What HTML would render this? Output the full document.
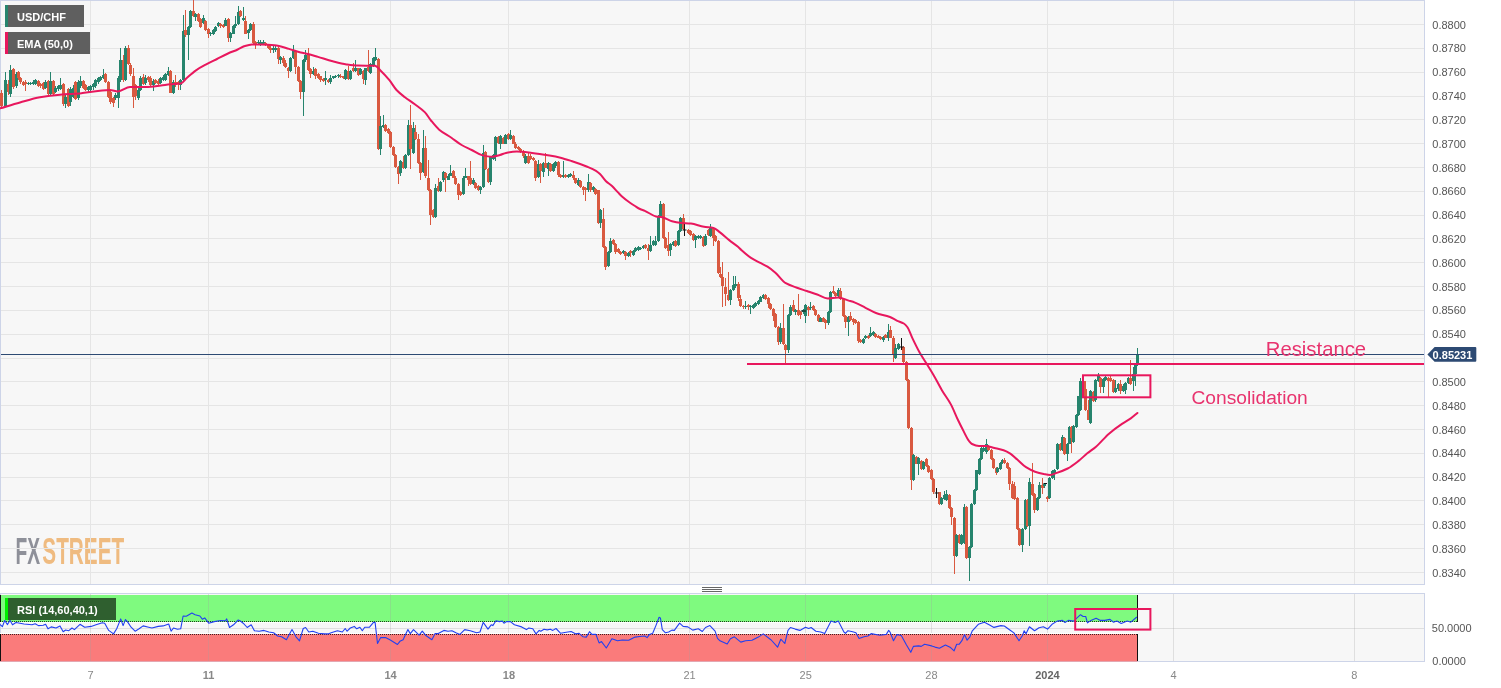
<!DOCTYPE html><html><head><meta charset="utf-8"><title>USD/CHF chart</title><style>html,body{margin:0;padding:0;background:#fff;width:1501px;height:688px;overflow:hidden}svg{display:block;will-change:transform}text{font-family:"Liberation Sans",Arial,sans-serif}</style></head><body>
<svg width="1501" height="688" viewBox="0 0 1501 688">
<rect width="1501" height="688" fill="#fff"/>
<rect x="0.5" y="0.5" width="1424" height="584" fill="#f7f7f7" stroke="#cdd4e8"/>
<g transform="translate(15.4 564.2) scale(0.585 1)" font-weight="bold" font-size="37.8"><text x="0" y="0" fill="#8e9099" textLength="42" lengthAdjust="spacingAndGlyphs">FX</text><text x="46" y="0" fill="#efbb80" textLength="140" lengthAdjust="spacingAndGlyphs">STREET</text></g>
<path d="M1 24.5H1424M1 48.5H1424M1 72.5H1424M1 96.5H1424M1 119.5H1424M1 143.5H1424M1 167.5H1424M1 191.5H1424M1 215.5H1424M1 238.5H1424M1 262.5H1424M1 286.5H1424M1 310.5H1424M1 334.5H1424M1 358.5H1424M1 381.5H1424M1 405.5H1424M1 429.5H1424M1 453.5H1424M1 477.5H1424M1 500.5H1424M1 524.5H1424M1 548.5H1424M1 572.5H1424M90.5 1V584M208.5 1V584M390.5 1V584M508.5 1V584M689.5 1V584M805.5 1V584M931.5 1V584M1047.5 1V584M1173.5 1V584M1354.5 1V584" stroke="#e5e5e5" stroke-width="1" fill="none"/>
<path d="M1 90h1v18h-1zM0 93h3v13h-3z" fill="#d95940"/>
<path d="M5 72h1v35h-1zM4 80h3v26h-3z" fill="#26846d"/>
<path d="M8 80h1v15h-1zM7 84h3v8h-3z" fill="#d95940"/>
<path d="M10 65h1v32h-1zM9 70h3v24h-3z" fill="#26846d"/>
<path d="M13 68h1v21h-1zM12 69h3v18h-3z" fill="#d95940"/>
<path d="M16 72h1v16h-1zM15 74h3v12h-3z" fill="#26846d"/>
<path d="M18 71h1v9h-1zM17 72h3v6h-3zM20 77h1v7h-1zM19 78h3v4h-3zM23 81h1v5h-1zM22 82h3v3h-3zM25 80h1v11h-1zM24 82h3v2h-3z" fill="#d95940"/>
<path d="M28 82h1v3h-1zM27 83h3v1h-3zM30 82h1v3h-1zM29 83h3v1h-3zM33 80h1v5h-1zM32 82h3v2h-3zM35 79h1v6h-1zM34 80h3v4h-3z" fill="#26846d"/>
<path d="M38 80h1v7h-1zM37 81h3v5h-3zM40 83h1v5h-1zM39 84h3v2h-3zM43 82h1v8h-1zM42 83h3v6h-3z" fill="#d95940"/>
<path d="M45 80h1v9h-1zM44 82h3v6h-3z" fill="#26846d"/>
<path d="M48 80h1v16h-1zM47 81h3v13h-3z" fill="#d95940"/>
<path d="M50 72h1v23h-1zM49 81h3v13h-3z" fill="#26846d"/>
<path d="M53 80h1v16h-1zM52 81h3v13h-3z" fill="#d95940"/>
<path d="M55 86h1v7h-1zM54 88h3v4h-3zM58 85h1v6h-1zM57 86h3v3h-3zM60 78h1v12h-1zM59 85h3v4h-3z" fill="#26846d"/>
<path d="M63 83h1v23h-1zM62 84h3v20h-3z" fill="#d95940"/>
<path d="M65 95h1v13h-1zM64 97h3v7h-3z" fill="#26846d"/>
<path d="M68 88h1v19h-1zM67 89h3v17h-3z" fill="#d95940"/>
<path d="M70 87h1v19h-1zM69 89h3v13h-3zM73 85h1v13h-1zM72 88h3v9h-3z" fill="#26846d"/>
<path d="M75 81h1v19h-1zM74 82h3v17h-3z" fill="#d95940"/>
<path d="M78 80h1v20h-1zM77 82h3v16h-3zM80 76h1v12h-1zM79 81h3v5h-3z" fill="#26846d"/>
<path d="M83 80h1v9h-1zM82 81h3v7h-3zM85 84h1v7h-1zM84 85h3v5h-3z" fill="#d95940"/>
<path d="M88 86h1v6h-1zM87 87h3v3h-3zM90 85h1v6h-1zM89 86h3v4h-3zM93 83h1v7h-1zM92 84h3v3h-3zM95 79h1v9h-1zM94 80h3v6h-3zM98 77h1v7h-1zM97 78h3v4h-3zM100 76h1v5h-1zM99 77h3v3h-3zM103 69h1v10h-1zM102 75h3v3h-3z" fill="#26846d"/>
<path d="M105 73h1v10h-1zM104 74h3v8h-3zM108 81h1v17h-1zM107 82h3v15h-3zM110 90h1v14h-1zM109 92h3v10h-3zM113 97h1v10h-1zM112 98h3v5h-3z" fill="#d95940"/>
<path d="M115 93h1v7h-1zM114 95h3v3h-3zM118 76h1v32h-1zM117 78h3v20h-3zM120 48h1v34h-1zM119 60h3v20h-3z" fill="#26846d"/>
<path d="M123 55h1v27h-1zM122 60h3v20h-3z" fill="#d95940"/>
<path d="M125 46h1v35h-1zM124 48h3v32h-3z" fill="#26846d"/>
<path d="M128 45h1v20h-1zM127 48h3v16h-3zM130 63h1v13h-1zM129 65h3v9h-3zM133 68h1v40h-1zM132 76h3v21h-3zM135 84h1v16h-1zM134 85h3v11h-3z" fill="#d95940"/>
<path d="M138 88h1v12h-1zM137 90h3v8h-3zM140 76h1v15h-1zM139 78h3v12h-3z" fill="#26846d"/>
<path d="M143 74h1v11h-1zM142 77h3v7h-3z" fill="#d95940"/>
<path d="M145 75h1v10h-1zM144 78h3v5h-3z" fill="#26846d"/>
<path d="M148 76h1v6h-1zM147 77h3v3h-3zM150 76h1v10h-1zM149 78h3v7h-3z" fill="#d95940"/>
<path d="M153 79h1v12h-1zM152 81h3v4h-3z" fill="#26846d"/>
<path d="M155 79h1v5h-1zM154 80h3v3h-3zM158 79h1v6h-1zM157 81h3v3h-3z" fill="#d95940"/>
<path d="M160 77h1v7h-1zM159 78h3v5h-3zM163 75h1v6h-1zM162 77h3v3h-3zM165 73h1v8h-1zM164 74h3v6h-3zM168 67h1v9h-1zM167 71h3v4h-3z" fill="#26846d"/>
<path d="M170 70h1v23h-1zM169 71h3v22h-3z" fill="#d95940"/>
<path d="M173 80h1v14h-1zM172 82h3v11h-3z" fill="#26846d"/>
<path d="M175 75h1v12h-1zM174 82h3v3h-3zM178 81h1v9h-1zM177 82h3v2h-3z" fill="#d95940"/>
<path d="M180 79h1v11h-1zM179 80h3v5h-3zM183 15h1v66h-1zM182 31h3v49h-3z" fill="#26846d"/>
<path d="M185 10h1v27h-1zM184 30h3v5h-3z" fill="#d95940"/>
<path d="M188 26h1v34h-1zM187 27h3v8h-3zM190 10h1v18h-1zM189 11h3v16h-3z" fill="#26846d"/>
<path d="M193 0h1v17h-1zM192 11h3v5h-3z" fill="#d95940"/>
<path d="M195 13h1v8h-1zM194 14h3v3h-3z" fill="#26846d"/>
<path d="M198 13h1v9h-1zM197 14h3v7h-3zM200 18h1v10h-1zM199 19h3v8h-3z" fill="#d95940"/>
<path d="M203 15h1v9h-1zM202 18h3v5h-3z" fill="#26846d"/>
<path d="M205 20h1v11h-1zM204 21h3v9h-3zM208 28h1v10h-1zM207 29h3v5h-3z" fill="#d95940"/>
<path d="M210 32h1v4h-1zM209 33h3v1h-3zM213 29h1v6h-1zM212 30h3v4h-3zM215 26h1v6h-1zM214 27h3v4h-3zM218 22h1v5h-1zM217 23h3v3h-3z" fill="#26846d"/>
<path d="M220 23h1v5h-1zM219 24h3v2h-3zM223 24h1v4h-1zM222 25h3v2h-3z" fill="#d95940"/>
<path d="M225 18h1v8h-1zM224 20h3v6h-3z" fill="#26846d"/>
<path d="M228 18h1v24h-1zM227 19h3v19h-3z" fill="#d95940"/>
<path d="M230 32h1v10h-1zM229 33h3v5h-3zM233 25h1v9h-1zM232 26h3v8h-3zM235 16h1v12h-1zM234 24h3v2h-3zM238 6h1v19h-1zM237 12h3v12h-3z" fill="#26846d"/>
<path d="M240 10h1v7h-1zM239 11h3v5h-3z" fill="#d95940"/>
<path d="M243 7h1v14h-1zM242 18h3v2h-3z" fill="#26846d"/>
<path d="M245 16h1v18h-1zM244 21h3v13h-3z" fill="#d95940"/>
<path d="M248 29h1v10h-1zM247 30h3v3h-3zM250 23h1v8h-1zM249 24h3v6h-3z" fill="#26846d"/>
<path d="M253 22h1v22h-1zM252 24h3v19h-3zM255 41h1v8h-1zM254 42h3v2h-3z" fill="#d95940"/>
<path d="M258 40h1v4h-1zM257 42h3v1h-3zM260 40h1v6h-1zM259 42h3v2h-3zM263 40h1v5h-1zM262 42h3v2h-3z" fill="#26846d"/>
<path d="M265 42h1v4h-1zM264 43h3v1h-3zM268 44h1v5h-1zM267 45h3v3h-3zM270 46h1v7h-1zM269 48h3v2h-3z" fill="#d95940"/>
<path d="M273 46h1v7h-1zM272 48h3v2h-3zM275 46h1v6h-1zM274 48h3v2h-3z" fill="#26846d"/>
<path d="M278 47h1v17h-1zM277 48h3v11h-3z" fill="#d95940"/>
<path d="M280 56h1v8h-1zM279 57h3v3h-3z" fill="#26846d"/>
<path d="M283 56h1v10h-1zM282 58h3v5h-3zM285 60h1v8h-1zM284 63h3v4h-3zM288 67h1v11h-1zM287 68h3v3h-3z" fill="#d95940"/>
<path d="M290 57h1v15h-1zM289 58h3v13h-3zM293 45h1v14h-1zM292 51h3v7h-3z" fill="#26846d"/>
<path d="M295 51h1v23h-1zM294 52h3v15h-3zM298 66h1v16h-1zM297 67h3v14h-3zM300 80h1v19h-1zM299 81h3v11h-3z" fill="#d95940"/>
<path d="M303 59h1v57h-1zM302 60h3v32h-3zM305 50h1v12h-1zM304 55h3v5h-3z" fill="#26846d"/>
<path d="M308 48h1v23h-1zM307 54h3v16h-3zM310 68h1v10h-1zM309 69h3v5h-3z" fill="#d95940"/>
<path d="M313 67h1v8h-1zM312 71h3v3h-3z" fill="#26846d"/>
<path d="M315 68h1v11h-1zM314 69h3v7h-3zM318 73h1v6h-1zM317 74h3v4h-3zM320 76h1v6h-1zM319 76h3v4h-3zM323 78h1v4h-1zM322 79h3v2h-3z" fill="#d95940"/>
<path d="M325 71h1v14h-1zM324 78h3v2h-3z" fill="#26846d"/>
<path d="M328 79h1v4h-1zM327 80h3v2h-3z" fill="#d95940"/>
<path d="M330 75h1v9h-1zM329 78h3v4h-3zM333 76h1v3h-1zM332 76h3v2h-3zM335 75h1v3h-1zM334 76h3v1h-3zM338 74h1v4h-1zM337 75h3v1h-3z" fill="#26846d"/>
<path d="M340 74h1v4h-1zM339 76h3v1h-3zM343 76h1v3h-1zM342 76h3v2h-3z" fill="#d95940"/>
<path d="M345 69h1v11h-1zM344 70h3v9h-3z" fill="#26846d"/>
<path d="M348 66h1v14h-1zM347 71h3v8h-3z" fill="#d95940"/>
<path d="M350 70h1v10h-1zM349 71h3v8h-3z" fill="#26846d"/>
<path d="M353 63h1v9h-1zM352 68h3v3h-3z" fill="#d95940"/>
<path d="M355 60h1v12h-1zM354 68h3v3h-3z" fill="#26846d"/>
<path d="M358 68h1v8h-1zM357 68h3v7h-3z" fill="#d95940"/>
<path d="M360 68h1v7h-1zM359 69h3v5h-3z" fill="#26846d"/>
<path d="M363 70h1v14h-1zM362 71h3v8h-3z" fill="#d95940"/>
<path d="M365 68h1v17h-1zM364 68h3v12h-3z" fill="#26846d"/>
<path d="M368 50h1v22h-1zM367 67h3v4h-3z" fill="#d95940"/>
<path d="M370 63h1v11h-1zM369 64h3v9h-3zM373 57h1v10h-1zM372 58h3v8h-3zM375 48h1v13h-1zM374 57h3v3h-3z" fill="#26846d"/>
<path d="M378 58h1v92h-1zM377 59h3v90h-3z" fill="#d95940"/>
<path d="M380 116h1v39h-1zM379 126h3v23h-3zM383 115h1v13h-1zM382 125h3v2h-3z" fill="#26846d"/>
<path d="M385 124h1v8h-1zM384 125h3v6h-3zM388 128h1v6h-1zM387 129h3v4h-3zM390 131h1v17h-1zM389 132h3v15h-3zM393 146h1v10h-1zM392 147h3v8h-3zM395 154h1v14h-1zM394 155h3v12h-3zM398 166h1v18h-1zM397 167h3v7h-3z" fill="#d95940"/>
<path d="M400 160h1v16h-1zM399 161h3v12h-3z" fill="#26846d"/>
<path d="M403 156h1v13h-1zM402 162h3v6h-3z" fill="#d95940"/>
<path d="M405 154h1v15h-1zM404 155h3v13h-3zM408 120h1v36h-1zM407 125h3v30h-3z" fill="#26846d"/>
<path d="M410 105h1v64h-1zM409 125h3v24h-3z" fill="#d95940"/>
<path d="M413 122h1v32h-1zM412 128h3v25h-3z" fill="#26846d"/>
<path d="M415 125h1v15h-1zM414 132h3v7h-3zM418 134h1v30h-1zM417 139h3v24h-3zM420 162h1v18h-1zM419 163h3v10h-3z" fill="#d95940"/>
<path d="M423 130h1v43h-1zM422 148h3v24h-3z" fill="#26846d"/>
<path d="M425 136h1v42h-1zM424 148h3v28h-3zM428 160h1v31h-1zM427 178h3v12h-3zM430 189h1v36h-1zM429 190h3v25h-3zM433 209h1v9h-1zM432 210h3v7h-3z" fill="#d95940"/>
<path d="M435 184h1v34h-1zM434 188h3v29h-3z" fill="#26846d"/>
<path d="M438 178h1v14h-1zM437 186h3v5h-3z" fill="#d95940"/>
<path d="M440 181h1v11h-1zM439 182h3v9h-3zM443 171h1v11h-1zM442 172h3v8h-3z" fill="#26846d"/>
<path d="M445 172h1v20h-1zM444 173h3v5h-3z" fill="#d95940"/>
<path d="M448 174h1v6h-1zM447 176h3v4h-3zM450 165h1v11h-1zM449 173h3v3h-3z" fill="#26846d"/>
<path d="M453 170h1v8h-1zM452 171h3v7h-3zM455 176h1v9h-1zM454 178h3v6h-3zM458 183h1v17h-1zM457 184h3v11h-3zM460 191h1v5h-1zM459 192h3v3h-3z" fill="#d95940"/>
<path d="M463 176h1v19h-1zM462 178h3v16h-3zM465 168h1v10h-1zM464 176h3v2h-3z" fill="#26846d"/>
<path d="M468 176h1v10h-1zM467 176h3v4h-3zM470 161h1v24h-1zM469 178h3v6h-3z" fill="#d95940"/>
<path d="M473 178h1v7h-1zM472 180h3v4h-3z" fill="#26846d"/>
<path d="M475 182h1v7h-1zM474 183h3v5h-3zM478 185h1v6h-1zM477 186h3v4h-3z" fill="#d95940"/>
<path d="M480 186h1v8h-1zM479 187h3v3h-3zM483 145h1v43h-1zM482 153h3v34h-3z" fill="#26846d"/>
<path d="M485 151h1v19h-1zM484 152h3v17h-3zM488 168h1v15h-1zM487 169h3v13h-3z" fill="#d95940"/>
<path d="M490 156h1v29h-1zM489 157h3v25h-3zM493 154h1v6h-1zM492 155h3v4h-3zM495 136h1v25h-1zM494 137h3v20h-3z" fill="#26846d"/>
<path d="M498 136h1v8h-1zM497 137h3v6h-3z" fill="#d95940"/>
<path d="M500 135h1v14h-1zM499 136h3v8h-3z" fill="#26846d"/>
<path d="M503 137h1v7h-1zM502 138h3v6h-3z" fill="#d95940"/>
<path d="M505 134h1v10h-1zM504 135h3v9h-3z" fill="#26846d"/>
<path d="M508 133h1v7h-1zM507 134h3v5h-3z" fill="#d95940"/>
<path d="M510 130h1v10h-1zM509 135h3v4h-3z" fill="#26846d"/>
<path d="M513 135h1v9h-1zM512 136h3v8h-3zM515 142h1v7h-1zM514 144h3v4h-3zM518 146h1v4h-1zM517 147h3v2h-3zM520 148h1v5h-1zM519 149h3v3h-3zM523 150h1v8h-1zM522 151h3v5h-3z" fill="#d95940"/>
<path d="M525 154h1v10h-1zM524 156h3v7h-3z" fill="#26846d"/>
<path d="M528 152h1v12h-1zM527 156h3v7h-3zM530 154h1v6h-1zM529 156h3v3h-3zM533 157h1v4h-1zM532 158h3v2h-3zM535 160h1v21h-1zM534 161h3v17h-3z" fill="#d95940"/>
<path d="M538 160h1v18h-1zM537 164h3v13h-3z" fill="#26846d"/>
<path d="M540 163h1v20h-1zM539 164h3v7h-3z" fill="#d95940"/>
<path d="M543 162h1v15h-1zM542 163h3v9h-3z" fill="#26846d"/>
<path d="M545 153h1v15h-1zM544 163h3v5h-3z" fill="#d95940"/>
<path d="M548 162h1v14h-1zM547 163h3v6h-3z" fill="#26846d"/>
<path d="M550 163h1v9h-1zM549 164h3v7h-3z" fill="#d95940"/>
<path d="M553 163h1v9h-1zM552 164h3v7h-3zM555 161h1v7h-1zM554 162h3v4h-3z" fill="#26846d"/>
<path d="M558 161h1v16h-1zM557 162h3v13h-3zM560 174h1v4h-1zM559 175h3v2h-3z" fill="#d95940"/>
<path d="M563 161h1v17h-1zM562 175h3v2h-3z" fill="#26846d"/>
<path d="M565 174h1v4h-1zM564 175h3v2h-3z" fill="#d95940"/>
<path d="M568 174h1v4h-1zM567 175h3v2h-3zM570 173h1v4h-1zM569 174h3v2h-3z" fill="#26846d"/>
<path d="M573 171h1v9h-1zM572 175h3v3h-3zM575 178h1v6h-1zM574 178h3v5h-3z" fill="#d95940"/>
<path d="M578 178h1v8h-1zM577 180h3v5h-3z" fill="#26846d"/>
<path d="M580 180h1v8h-1zM579 181h3v6h-3zM583 186h1v9h-1zM582 187h3v3h-3zM585 187h1v14h-1zM584 188h3v2h-3z" fill="#d95940"/>
<path d="M588 174h1v18h-1zM587 182h3v8h-3z" fill="#26846d"/>
<path d="M590 182h1v10h-1zM589 183h3v7h-3z" fill="#d95940"/>
<path d="M593 186h1v6h-1zM592 187h3v3h-3z" fill="#26846d"/>
<path d="M595 188h1v7h-1zM594 189h3v5h-3zM598 190h1v34h-1zM597 190h3v33h-3z" fill="#d95940"/>
<path d="M600 209h1v19h-1zM599 210h3v13h-3z" fill="#26846d"/>
<path d="M603 208h1v40h-1zM602 219h3v28h-3zM605 246h1v24h-1zM604 247h3v20h-3z" fill="#d95940"/>
<path d="M608 251h1v16h-1zM607 252h3v14h-3zM610 238h1v15h-1zM609 241h3v11h-3z" fill="#26846d"/>
<path d="M613 239h1v6h-1zM612 240h3v4h-3zM615 243h1v11h-1zM614 244h3v8h-3zM618 248h1v5h-1zM617 249h3v3h-3zM620 251h1v4h-1zM619 252h3v2h-3z" fill="#d95940"/>
<path d="M623 250h1v4h-1zM622 251h3v2h-3z" fill="#26846d"/>
<path d="M625 251h1v9h-1zM624 252h3v4h-3z" fill="#d95940"/>
<path d="M628 252h1v5h-1zM627 253h3v3h-3z" fill="#26846d"/>
<path d="M630 250h1v7h-1zM629 251h3v2h-3z" fill="#d95940"/>
<path d="M633 250h1v6h-1zM632 251h3v4h-3zM635 247h1v5h-1zM634 248h3v3h-3zM638 246h1v5h-1zM637 247h3v3h-3zM640 247h1v3h-1zM639 248h3v1h-3zM643 245h1v4h-1zM642 246h3v2h-3z" fill="#26846d"/>
<path d="M645 244h1v5h-1zM644 245h3v3h-3zM648 244h1v16h-1zM647 248h3v3h-3z" fill="#d95940"/>
<path d="M650 236h1v16h-1zM649 245h3v6h-3zM653 240h1v6h-1zM652 241h3v4h-3zM655 236h1v10h-1zM654 241h3v4h-3zM658 215h1v27h-1zM657 216h3v25h-3zM660 201h1v16h-1zM659 204h3v12h-3z" fill="#26846d"/>
<path d="M663 203h1v36h-1zM662 204h3v34h-3zM665 237h1v12h-1zM664 238h3v10h-3zM668 232h1v24h-1zM667 245h3v6h-3z" fill="#d95940"/>
<path d="M670 243h1v13h-1zM669 244h3v6h-3zM673 241h1v5h-1zM672 242h3v3h-3z" fill="#26846d"/>
<path d="M675 240h1v7h-1zM674 241h3v5h-3z" fill="#d95940"/>
<path d="M678 230h1v16h-1zM677 231h3v14h-3zM680 217h1v15h-1zM679 218h3v13h-3z" fill="#26846d"/>
<path d="M683 214h1v16h-1zM682 218h3v11h-3zM688 229h1v5h-1zM687 230h3v3h-3zM690 230h1v6h-1zM689 231h3v4h-3zM693 233h1v8h-1zM692 234h3v6h-3z" fill="#d95940"/>
<path d="M695 235h1v13h-1zM694 236h3v4h-3zM698 235h1v4h-1zM697 236h3v2h-3zM700 235h1v4h-1zM699 236h3v2h-3z" fill="#26846d"/>
<path d="M703 236h1v11h-1zM702 237h3v9h-3z" fill="#d95940"/>
<path d="M705 234h1v12h-1zM704 236h3v9h-3z" fill="#26846d"/>
<path d="M708 229h1v7h-1zM707 230h3v5h-3z" fill="#d95940"/>
<path d="M710 224h1v13h-1zM709 228h3v8h-3z" fill="#26846d"/>
<path d="M713 227h1v19h-1zM712 228h3v10h-3zM715 235h1v7h-1zM714 236h3v5h-3zM718 240h1v34h-1zM717 241h3v32h-3zM720 267h1v11h-1zM719 274h3v3h-3zM722 262h1v45h-1zM721 277h3v9h-3zM725 278h1v28h-1zM724 287h3v7h-3zM728 272h1v29h-1zM727 295h3v5h-3z" fill="#d95940"/>
<path d="M730 289h1v16h-1zM729 290h3v10h-3zM733 276h1v15h-1zM732 285h3v5h-3zM735 276h1v12h-1zM734 284h3v2h-3z" fill="#26846d"/>
<path d="M738 282h1v19h-1zM737 284h3v14h-3zM740 295h1v12h-1zM739 299h3v7h-3zM743 305h1v4h-1zM742 306h3v1h-3z" fill="#d95940"/>
<path d="M745 301h1v8h-1zM744 306h3v1h-3z" fill="#26846d"/>
<path d="M748 304h1v6h-1zM747 305h3v2h-3z" fill="#d95940"/>
<path d="M750 305h1v9h-1zM749 306h3v1h-3zM753 304h1v5h-1zM752 305h3v3h-3zM755 302h1v5h-1zM754 303h3v3h-3zM758 300h1v5h-1zM757 301h3v3h-3zM760 296h1v6h-1zM759 297h3v5h-3zM763 294h1v5h-1zM762 295h3v3h-3z" fill="#26846d"/>
<path d="M765 294h1v6h-1zM764 295h3v4h-3zM768 297h1v11h-1zM767 298h3v6h-3zM770 303h1v7h-1zM769 304h3v5h-3zM773 308h1v13h-1zM772 309h3v7h-3zM775 313h1v15h-1zM774 314h3v13h-3zM778 326h1v19h-1zM777 327h3v15h-3z" fill="#d95940"/>
<path d="M780 323h1v21h-1zM779 328h3v14h-3z" fill="#26846d"/>
<path d="M783 304h1v41h-1zM782 328h3v16h-3zM785 344h1v21h-1zM784 345h3v5h-3z" fill="#d95940"/>
<path d="M788 314h1v39h-1zM787 315h3v35h-3zM790 305h1v11h-1zM789 307h3v8h-3z" fill="#26846d"/>
<path d="M793 300h1v12h-1zM792 305h3v6h-3z" fill="#d95940"/>
<path d="M795 309h1v6h-1zM794 310h3v2h-3z" fill="#26846d"/>
<path d="M798 294h1v22h-1zM797 310h3v5h-3zM800 311h1v8h-1zM799 312h3v3h-3z" fill="#d95940"/>
<path d="M803 309h1v5h-1zM802 310h3v2h-3zM805 304h1v19h-1zM804 305h3v11h-3z" fill="#26846d"/>
<path d="M808 306h1v10h-1zM807 307h3v3h-3z" fill="#d95940"/>
<path d="M810 302h1v8h-1zM809 307h3v1h-3z" fill="#26846d"/>
<path d="M813 305h1v6h-1zM812 306h3v4h-3zM815 309h1v7h-1zM814 310h3v5h-3zM818 314h1v8h-1zM817 315h3v6h-3z" fill="#d95940"/>
<path d="M820 317h1v5h-1zM819 318h3v4h-3z" fill="#26846d"/>
<path d="M823 317h1v5h-1zM822 318h3v4h-3zM825 319h1v10h-1zM824 320h3v3h-3z" fill="#d95940"/>
<path d="M828 311h1v14h-1zM827 312h3v11h-3zM830 291h1v22h-1zM829 292h3v20h-3z" fill="#26846d"/>
<path d="M833 286h1v8h-1zM832 291h3v2h-3zM835 292h1v5h-1zM834 293h3v3h-3z" fill="#d95940"/>
<path d="M838 288h1v9h-1zM837 290h3v6h-3z" fill="#26846d"/>
<path d="M840 288h1v12h-1zM839 291h3v8h-3zM843 298h1v19h-1zM842 299h3v17h-3zM845 315h1v13h-1zM844 316h3v6h-3z" fill="#d95940"/>
<path d="M848 316h1v20h-1zM847 317h3v5h-3z" fill="#26846d"/>
<path d="M850 312h1v9h-1zM849 316h3v4h-3zM853 318h1v7h-1zM852 319h3v3h-3zM855 319h1v5h-1zM854 320h3v3h-3zM858 321h1v22h-1zM857 322h3v19h-3zM860 339h1v4h-1zM859 340h3v2h-3z" fill="#d95940"/>
<path d="M863 338h1v6h-1zM862 339h3v4h-3zM865 335h1v4h-1zM864 336h3v2h-3z" fill="#26846d"/>
<path d="M868 335h1v4h-1zM867 336h3v2h-3z" fill="#d95940"/>
<path d="M870 327h1v10h-1zM869 333h3v3h-3zM873 331h1v5h-1zM872 332h3v3h-3z" fill="#26846d"/>
<path d="M875 333h1v5h-1zM874 334h3v3h-3zM878 335h1v3h-1zM877 336h3v2h-3zM880 336h1v4h-1zM879 337h3v2h-3z" fill="#d95940"/>
<path d="M883 336h1v6h-1zM882 337h3v3h-3z" fill="#26846d"/>
<path d="M885 334h1v4h-1zM884 335h3v3h-3z" fill="#d95940"/>
<path d="M888 324h1v17h-1zM887 332h3v6h-3z" fill="#26846d"/>
<path d="M890 326h1v12h-1zM889 330h3v8h-3zM893 336h1v26h-1zM892 338h3v16h-3z" fill="#d95940"/>
<path d="M895 344h1v15h-1zM894 348h3v10h-3zM898 343h1v7h-1zM897 344h3v5h-3z" fill="#26846d"/>
<path d="M903 346h1v17h-1zM902 347h3v15h-3zM906 361h1v20h-1zM905 362h3v18h-3zM908 379h1v50h-1zM907 380h3v48h-3zM911 427h1v63h-1zM910 428h3v52h-3z" fill="#d95940"/>
<path d="M913 454h1v27h-1zM912 455h3v25h-3z" fill="#26846d"/>
<path d="M916 456h1v8h-1zM915 457h3v7h-3z" fill="#d95940"/>
<path d="M918 457h1v18h-1zM917 458h3v6h-3z" fill="#26846d"/>
<path d="M921 460h1v10h-1zM920 461h3v8h-3z" fill="#d95940"/>
<path d="M923 461h1v9h-1zM922 462h3v7h-3z" fill="#26846d"/>
<path d="M926 458h1v9h-1zM925 459h3v7h-3zM928 465h1v8h-1zM927 466h3v6h-3zM931 469h1v11h-1zM930 470h3v9h-3zM933 478h1v16h-1zM932 479h3v13h-3zM939 492h1v13h-1zM938 492h3v12h-3z" fill="#d95940"/>
<path d="M941 497h1v8h-1zM940 498h3v6h-3zM944 491h1v9h-1zM943 495h3v4h-3zM946 490h1v11h-1zM945 494h3v6h-3z" fill="#26846d"/>
<path d="M949 494h1v15h-1zM948 495h3v13h-3zM951 507h1v18h-1zM950 508h3v9h-3zM954 517h1v57h-1zM953 518h3v38h-3z" fill="#d95940"/>
<path d="M956 534h1v23h-1zM955 535h3v21h-3z" fill="#26846d"/>
<path d="M959 534h1v10h-1zM958 535h3v8h-3z" fill="#d95940"/>
<path d="M961 534h1v11h-1zM960 535h3v9h-3zM964 504h1v40h-1zM963 507h3v36h-3z" fill="#26846d"/>
<path d="M966 506h1v53h-1zM965 507h3v51h-3z" fill="#d95940"/>
<path d="M969 546h1v35h-1zM968 547h3v11h-3zM971 503h1v45h-1zM970 504h3v43h-3zM974 489h1v16h-1zM973 490h3v14h-3zM976 470h1v21h-1zM975 470h3v20h-3zM979 458h1v17h-1zM978 459h3v15h-3zM981 447h1v13h-1zM980 448h3v11h-3zM983 445h1v7h-1zM982 448h3v3h-3zM986 439h1v15h-1zM985 444h3v8h-3z" fill="#26846d"/>
<path d="M988 445h1v6h-1zM987 446h3v4h-3zM991 449h1v11h-1zM990 450h3v9h-3zM993 458h1v11h-1zM992 459h3v9h-3zM996 467h1v8h-1zM995 468h3v5h-3z" fill="#d95940"/>
<path d="M997 467h1v6h-1zM996 468h3v4h-3zM1000 462h1v8h-1zM999 463h3v6h-3zM1002 459h1v5h-1zM1001 460h3v3h-3z" fill="#26846d"/>
<path d="M1004 458h1v6h-1zM1003 460h3v3h-3zM1007 462h1v7h-1zM1006 463h3v5h-3zM1009 467h1v23h-1zM1008 468h3v16h-3zM1012 481h1v18h-1zM1011 484h3v14h-3zM1014 482h1v18h-1zM1013 486h3v13h-3zM1017 497h1v33h-1zM1016 498h3v31h-3zM1019 528h1v18h-1zM1018 529h3v16h-3z" fill="#d95940"/>
<path d="M1022 528h1v24h-1zM1021 529h3v16h-3zM1025 499h1v31h-1zM1024 500h3v29h-3z" fill="#26846d"/>
<path d="M1027 499h1v28h-1zM1026 500h3v26h-3z" fill="#d95940"/>
<path d="M1029 478h1v68h-1zM1028 482h3v44h-3z" fill="#26846d"/>
<path d="M1032 463h1v33h-1zM1031 484h3v11h-3zM1034 493h1v20h-1zM1033 494h3v16h-3z" fill="#d95940"/>
<path d="M1037 497h1v14h-1zM1036 498h3v12h-3zM1039 482h1v17h-1zM1038 485h3v13h-3z" fill="#26846d"/>
<path d="M1042 478h1v16h-1zM1041 485h3v3h-3z" fill="#d95940"/>
<path d="M1044 484h1v4h-1zM1043 484h3v2h-3z" fill="#26846d"/>
<path d="M1047 496h1v6h-1zM1046 497h3v2h-3z" fill="#d95940"/>
<path d="M1049 477h1v22h-1zM1048 478h3v20h-3zM1052 470h1v9h-1zM1051 471h3v7h-3zM1054 469h1v11h-1zM1053 470h3v3h-3zM1057 443h1v27h-1zM1056 444h3v25h-3z" fill="#26846d"/>
<path d="M1060 443h1v8h-1zM1059 444h3v6h-3z" fill="#d95940"/>
<path d="M1062 435h1v16h-1zM1061 437h3v13h-3z" fill="#26846d"/>
<path d="M1064 437h1v18h-1zM1063 438h3v16h-3z" fill="#d95940"/>
<path d="M1067 443h1v18h-1zM1066 444h3v10h-3zM1069 426h1v18h-1zM1068 427h3v17h-3z" fill="#26846d"/>
<path d="M1071 426h1v27h-1zM1070 427h3v11h-3z" fill="#d95940"/>
<path d="M1073 425h1v18h-1zM1072 426h3v16h-3zM1076 414h1v14h-1zM1075 415h3v12h-3zM1078 396h1v20h-1zM1077 396h3v19h-3zM1080 378h1v33h-1zM1079 381h3v29h-3z" fill="#26846d"/>
<path d="M1083 380h1v10h-1zM1082 381h3v8h-3zM1085 381h1v30h-1zM1084 389h3v21h-3zM1088 400h1v20h-1zM1087 410h3v10h-3z" fill="#d95940"/>
<path d="M1090 390h1v34h-1zM1089 391h3v32h-3z" fill="#26846d"/>
<path d="M1093 391h1v11h-1zM1092 392h3v9h-3z" fill="#d95940"/>
<path d="M1095 379h1v23h-1zM1094 380h3v20h-3zM1098 373h1v9h-1zM1097 375h3v6h-3z" fill="#26846d"/>
<path d="M1100 377h1v16h-1zM1099 378h3v9h-3z" fill="#d95940"/>
<path d="M1103 378h1v15h-1zM1102 379h3v8h-3zM1105 376h1v5h-1zM1104 377h3v3h-3z" fill="#26846d"/>
<path d="M1108 377h1v20h-1zM1107 378h3v3h-3zM1110 376h1v6h-1zM1109 378h3v3h-3zM1113 379h1v14h-1zM1112 380h3v12h-3z" fill="#d95940"/>
<path d="M1115 380h1v13h-1zM1114 388h3v4h-3zM1118 383h1v8h-1zM1117 384h3v5h-3z" fill="#26846d"/>
<path d="M1120 380h1v14h-1zM1119 384h3v7h-3z" fill="#d95940"/>
<path d="M1123 384h1v8h-1zM1122 386h3v5h-3zM1125 382h1v12h-1zM1124 383h3v7h-3zM1128 377h1v7h-1zM1127 378h3v5h-3z" fill="#26846d"/>
<path d="M1130 360h1v25h-1zM1129 378h3v6h-3z" fill="#d95940"/>
<path d="M1133 367h1v24h-1zM1132 374h3v7h-3zM1135 363h1v23h-1zM1134 364h3v10h-3zM1137 348h1v18h-1zM1136 355h3v10h-3z" fill="#26846d"/>
<path d="M684.5 224V236M682.5 230H686.5M801 311H806M901.5 338V350M899.5 347H903.5M936.5 488V498M934.5 493H938.5M1043.5 483.5H1047" stroke="#111" stroke-width="1" fill="none"/>
<path d="M0 108.4 C6.67 106.43 13.33 104.34 20 102.5 C26.67 100.66 33.33 98.46 40 97.3 C46.67 96.14 53.33 95.28 60 94.7 C66.67 94.12 73.33 93.98 80 93.4 C86.67 92.82 93.33 91.39 100 90.8 C103.33 90.51 106.67 90.1 110 90.1 C112.67 90.1 115.33 91.4 118 91.4 C122 91.4 126 86.9 130 86.9 C135.33 86.9 140.67 87 146 87 C151 87 156 86.1 161 85.5 C164 85.14 167 84.49 170 84.2 C173.67 83.84 177.33 83.95 181 83.4 C182.83 83.13 184.67 79.93 186.5 78.3 C189.67 75.49 192.83 72.47 196 70.3 C199.23 68.08 202.47 66.44 205.7 64.7 C209.47 62.67 213.23 60.89 217 59 C220.67 57.16 224.33 55.15 228 53.5 C231.23 52.04 234.47 50.98 237.7 49.5 C239.8 48.54 241.9 46.99 244 46.3 C246.67 45.42 249.33 44.4 252 44.4 C255.33 44.4 258.67 44.44 262 44.5 C266.17 44.57 270.33 44.88 274.5 45.3 C279.33 45.78 284.17 47.57 289 48.9 C292.9 49.98 296.8 51.55 300.7 52.5 C303.13 53.09 305.57 53.42 308 54 C311.33 54.79 314.67 55.92 318 56.9 C322.9 58.34 327.8 60.04 332.7 61.3 C337.3 62.48 341.9 63.75 346.5 64.4 C350.33 64.94 354.17 65.51 358 65.6 C363.67 65.73 369.33 65.64 375 65.8 C376.9 65.85 378.8 68.89 380.7 70.7 C383.6 73.47 386.5 76.65 389.4 80.2 C391.77 83.1 394.13 87.47 396.5 90 C399.2 92.88 401.9 94.89 404.6 97 C408 99.65 411.4 101.64 414.8 104.2 C418.2 106.76 421.6 108.9 425 112.4 C427 114.46 429 118.04 431 120.5 C433.73 123.87 436.47 127.38 439.2 129.7 C443.27 133.15 447.33 135.01 451.4 137.8 C454.8 140.13 458.2 143.02 461.6 145 C464.97 146.96 468.33 148.33 471.7 150 C475.1 151.69 478.5 154.28 481.9 155.1 C485.27 155.91 488.63 156.7 492 156.7 C494.67 156.7 497.33 155.71 500 155 C502 154.46 504 153.28 506 152.9 C509.6 152.22 513.2 151.6 516.8 151.6 C521.87 151.6 526.93 152.35 532 152.9 C537.83 153.53 543.67 154.49 549.5 155.5 C553.17 156.13 556.83 156.82 560.5 157.7 C564.13 158.58 567.77 159.81 571.4 161 C576.47 162.66 581.53 164.43 586.6 166.5 C589.73 167.78 592.87 168.91 596 170.8 C597.33 171.61 598.67 172.74 600 174 C602 175.89 604 179.28 606 181.2 C608 183.12 610 184.17 612 186 C614 187.83 616 190.34 618 192.4 C619.33 193.77 620.67 195.21 622 196.4 C624.67 198.78 627.33 200.8 630 202.7 C631.67 203.89 633.33 204.95 635 206 C636.67 207.05 638.33 208.23 640 209 C641.6 209.74 643.2 210.13 644.8 210.8 C648.53 212.37 652.27 215.69 656 216.4 C658.13 216.8 660.27 216.8 662.4 217.2 C665.6 217.79 668.8 220.34 672 221.2 C674.67 221.91 677.33 222.51 680 222.8 C683.67 223.2 687.33 223.19 691 223.6 C695.33 224.08 699.67 226.13 704 226.8 C707.17 227.29 710.33 227.24 713.5 227.9 C715.67 228.35 717.83 230.76 720 232.4 C723.17 234.79 726.33 237.89 729.5 240.4 C732.33 242.65 735.17 244.35 738 246.8 C739.1 247.75 740.2 249.01 741.3 250 C744.53 252.9 747.77 255.81 751 257.9 C753.9 259.78 756.8 261.07 759.7 262.6 C762.3 263.97 764.9 265 767.5 266.6 C770.13 268.22 772.77 270.41 775.4 272.7 C778.87 275.72 782.33 281.18 785.8 283.2 C789.3 285.24 792.8 286.21 796.3 287.5 C799.8 288.79 803.3 289.83 806.8 291 C810.27 292.16 813.73 293.26 817.2 294.5 C820.7 295.75 824.2 298.5 827.7 298.5 C831.2 298.5 834.7 297.5 838.2 297.5 C841.7 297.5 845.2 299.53 848.7 300.6 C850.8 301.24 852.9 301.8 855 302.6 C858.5 303.93 862 306.07 865.5 307.8 C869 309.53 872.5 311.72 876 313 C880.67 314.71 885.33 315.21 890 317 C892.27 317.87 894.53 319.55 896.8 320.6 C899.13 321.69 901.47 322.07 903.8 323.5 C904.97 324.22 906.13 325.44 907.3 327 C909.03 329.32 910.77 334.78 912.5 338.4 C914.83 343.27 917.17 348.14 919.5 352.3 C921.83 356.46 924.17 359.82 926.5 363.6 C928.83 367.38 931.17 371.01 933.5 375 C936.4 379.96 939.3 385.81 942.2 390.7 C945.13 395.64 948.07 399.17 951 404.6 C953.33 408.92 955.67 415.12 958 420 C959.67 423.48 961.33 426.81 963 430 C965 433.83 967 438.49 969 441 C970 442.25 971 443.52 972 444 C974.33 445.12 976.67 446 979 446 C981.17 446 983.33 446 985.5 446 C988.5 446 991.5 447.29 994.5 448 C997.53 448.72 1000.57 449.27 1003.6 450.3 C1005.83 451.06 1008.07 452.21 1010.3 453.6 C1012.53 454.99 1014.77 457.37 1017 459.3 C1020 461.89 1023 465.29 1026 467.2 C1029 469.11 1032 470.66 1035 471.7 C1037.9 472.7 1040.8 473.43 1043.7 474 C1045.8 474.41 1047.9 475 1050 475 C1052.27 475 1054.53 473.69 1056.8 472.9 C1060.43 471.64 1064.07 470.36 1067.7 468.5 C1071.33 466.64 1074.97 463.73 1078.6 460.9 C1081.5 458.64 1084.4 455.65 1087.3 453.3 C1090.2 450.95 1093.1 449.18 1096 446.7 C1100.33 443 1104.67 437.43 1109 433.7 C1113.33 429.97 1117.67 426.84 1122 423.9 C1124.93 421.91 1127.87 420.49 1130.8 418.4 C1133 416.83 1135.2 414.8 1137.4 413" stroke="#e8175d" stroke-width="2" fill="none" stroke-linejoin="round" stroke-linecap="round"/>
<path d="M1 354.5H1424" stroke="#2d4a73" stroke-width="1.2"/>
<rect x="747" y="363" width="677" height="2" fill="#e8175d"/>
<rect x="1083" y="375.3" width="67.4" height="22" fill="none" stroke="#e8175d" stroke-width="2"/>
<text x="1265.8" y="355.6" font-size="20.3" fill="#e8336e">Resistance</text>
<text x="1191.5" y="403.7" font-size="19.2" fill="#e8336e">Consolidation</text>
<rect x="5" y="5" width="79" height="22" fill="#5f5f5f"/><rect x="5" y="5" width="3" height="22" fill="#26846d"/>
<text x="17" y="21" font-size="11" font-weight="bold" fill="#fff">USD/CHF</text>
<rect x="5" y="32" width="85" height="22" fill="#5f5f5f"/><rect x="5" y="32" width="3" height="22" fill="#e8175d"/>
<text x="17" y="48" font-size="11" font-weight="bold" fill="#fff">EMA (50,0)</text>
<text x="1432.3" y="29" font-size="11" fill="#555">0.8800</text>
<text x="1432.3" y="52" font-size="11" fill="#555">0.8780</text>
<text x="1432.3" y="76" font-size="11" fill="#555">0.8760</text>
<text x="1432.3" y="100" font-size="11" fill="#555">0.8740</text>
<text x="1432.3" y="124" font-size="11" fill="#555">0.8720</text>
<text x="1432.3" y="148" font-size="11" fill="#555">0.8700</text>
<text x="1432.3" y="172" font-size="11" fill="#555">0.8680</text>
<text x="1432.3" y="195" font-size="11" fill="#555">0.8660</text>
<text x="1432.3" y="219" font-size="11" fill="#555">0.8640</text>
<text x="1432.3" y="243" font-size="11" fill="#555">0.8620</text>
<text x="1432.3" y="267" font-size="11" fill="#555">0.8600</text>
<text x="1432.3" y="291" font-size="11" fill="#555">0.8580</text>
<text x="1432.3" y="314" font-size="11" fill="#555">0.8560</text>
<text x="1432.3" y="338" font-size="11" fill="#555">0.8540</text>
<text x="1432.3" y="386" font-size="11" fill="#555">0.8500</text>
<text x="1432.3" y="410" font-size="11" fill="#555">0.8480</text>
<text x="1432.3" y="434" font-size="11" fill="#555">0.8460</text>
<text x="1432.3" y="457" font-size="11" fill="#555">0.8440</text>
<text x="1432.3" y="481" font-size="11" fill="#555">0.8420</text>
<text x="1432.3" y="505" font-size="11" fill="#555">0.8400</text>
<text x="1432.3" y="529" font-size="11" fill="#555">0.8380</text>
<text x="1432.3" y="553" font-size="11" fill="#555">0.8360</text>
<text x="1432.3" y="577" font-size="11" fill="#555">0.8340</text>
<path d="M1427.4 354.4L1434.6 347H1475.3Q1476.3 347 1476.3 348V360.7Q1476.3 361.7 1475.3 361.7H1434.6Z" fill="#2d4a73"/>
<text x="1432.6" y="359" font-size="11" font-weight="bold" fill="#fff">0.85231</text>
<path d="M702 587.5H722M702 589.5H722M702 591.5H722" stroke="#666" stroke-width="1"/>
<rect x="0.5" y="593.5" width="1424" height="68" fill="#f7f7f7" stroke="#cdd4e8"/>
<rect x="0" y="595" width="1137.5" height="27" fill="#7ffa7f"/><rect x="0" y="622" width="1137.5" height="1" fill="#fff"/>
<rect x="0" y="634" width="1137.5" height="27.5" fill="#fa7b7b"/>
<path d="M1 628.5H1424M90.5 594V661M208.5 594V661M390.5 594V661M508.5 594V661M689.5 594V661M805.5 594V661M931.5 594V661M1047.5 594V661M1173.5 594V661M1354.5 594V661" stroke="rgba(160,160,160,0.28)" stroke-width="1" fill="none"/>
<rect x="0" y="633" width="1137.5" height="1" fill="#fff"/>
<path d="M0.5 595V622M1137.5 595V622M0.5 634V661M1137.5 634V661" stroke="#111" stroke-width="1"/>
<path d="M0 621.5H1137M0 634.5H1137" stroke="#000" stroke-opacity="0.75" stroke-width="1" stroke-dasharray="1 1"/>
<path d="M0 624.5 L2.4 626.6 L4.7 620.5 L7.5 624.6 L10 620.2 L12.5 624.8 L16 622.5 L24 624 L32 624.8 L35.2 623.7 L38.4 625.6 L43.2 625.3 L45.6 624.3 L48 628.8 L51.2 626.9 L56 628 L60 625.9 L63.2 631.7 L65.6 630 L68.8 630.7 L72 628 L74.4 629.6 L80 624.3 L84.7 627.2 L91.1 626.4 L96 624.8 L102.3 622.7 L104.7 623.2 L108.7 630.4 L113.5 633.9 L116.7 628.8 L120.7 618.9 L123.1 625.6 L125.5 619.5 L127.9 622.4 L131.1 627.2 L135.1 631.2 L139.1 628.8 L143.1 625.9 L148.7 627.2 L151.9 628 L158.3 626.4 L163.1 625.9 L168.7 624 L171.1 631.2 L173.5 628 L177.5 629.3 L180.7 628.8 L183.1 616 L186.3 616.3 L191.9 613.1 L195.1 614.7 L199.9 616 L202.3 619.2 L204.7 617.9 L208.7 623.2 L214.3 621.6 L220.7 620.5 L225.5 620.8 L226.7 618.9 L229.5 627.5 L233.5 624.8 L238.2 620 L240 620.8 L243.2 623.2 L247.2 627.5 L251.2 624.8 L254.4 630.7 L259.2 631.2 L264 630.4 L268.8 632 L273.6 632.8 L277.6 636 L281.6 636.8 L286.4 639.7 L292 629.6 L296 636.8 L299.5 640.8 L303.2 628.5 L305.6 627.5 L308.8 632 L312.8 631.2 L318.4 633.3 L324.7 633.9 L327.9 633.9 L331.9 632.5 L337.5 630.7 L342.3 632 L345.2 628.5 L347.1 631.2 L350.3 628 L354.3 626.4 L356.7 628.8 L359.9 627.2 L362.3 630.7 L364.7 627.2 L369.5 627.2 L373.5 622.4 L375.1 622.4 L377.5 643.5 L380.7 637.6 L385.5 637.6 L390.3 640 L397.5 644.5 L399.9 641.3 L403.1 639.7 L407.9 629.6 L410.3 633.6 L413.5 629.6 L419.1 635.2 L422.3 631.2 L425.5 635.2 L431.9 639.7 L435.1 633.6 L438.3 633.6 L443.9 630.4 L447.9 631.2 L451.9 630.7 L455.9 632.8 L459.9 634.4 L464.7 629.6 L470.3 630.7 L476.6 632.8 L480 632 L483.2 622.4 L488 629.1 L491.2 624.8 L492.8 625.6 L496 620.8 L499.2 621.6 L502.4 621.1 L504 623.2 L506.4 621.6 L510.4 621.6 L514.4 624.8 L521.6 626.9 L526.4 629.6 L528.8 628 L532.8 628.8 L536 633.9 L539.2 630.4 L540.8 631.2 L544 629.3 L547.2 629.9 L550.4 629.3 L552.8 630.4 L556 628.5 L560.7 633.3 L564.7 632.5 L571.1 631.5 L575.9 633.9 L579.1 633.3 L583.1 636.8 L586.3 637.1 L589.5 631.7 L591.9 634.4 L595.9 634.4 L599.1 642.9 L601.5 641.6 L606.3 648 L611.9 638.7 L617.5 640.8 L622.3 640 L628.7 640.3 L635.1 637.1 L639.9 636.5 L644.7 636 L647.1 637.6 L649.5 634.4 L652.7 633.3 L655.9 625.6 L659.1 617.3 L660.4 617.9 L662.3 629.6 L665.5 632.8 L668.7 632 L671.9 630.1 L674.3 630.4 L679.6 623.2 L683.1 626.4 L687.9 626.9 L692.7 630.1 L698.3 628.8 L702.3 631.5 L705.5 627.5 L709.9 625.6 L715.1 631.2 L717.5 638.4 L720 640.8 L727.2 644 L730.4 638.7 L734.4 636.8 L740.8 642.1 L745.6 640.8 L752 640.3 L758.4 637.1 L763.2 633.9 L771.2 640 L777.6 647.2 L780.8 639.2 L784.8 643.5 L788 630.4 L790.4 627.5 L795.2 629.1 L799.9 630.4 L805.5 627.2 L808.7 628.5 L811.1 627.5 L815.9 631.2 L820.7 632 L824.7 633.6 L831.1 621.1 L835.1 622.4 L838.3 621.1 L843.9 632 L845.5 633.3 L847.9 630.7 L852.7 631.7 L855.9 632.8 L859.1 638.4 L863.9 636.8 L867.9 636 L871.1 633.6 L879.9 635.2 L886.3 634.4 L888.7 630.4 L890 632 L893.5 640.7 L896.9 634.6 L901.3 635.5 L906.5 645 L910.8 652.3 L913.4 646.4 L918.6 645.9 L921.2 646.4 L924.6 644.2 L931.6 645.9 L935 647.1 L939.4 648.2 L945.4 645 L950.6 647.6 L954.1 650.8 L956.7 644.2 L959.3 644.2 L961.9 640.7 L964.5 634.6 L967.1 640.2 L969.7 637.2 L972.3 630.8 L978.3 624.3 L984.4 622.2 L989.6 625.1 L993.9 627.4 L1000.9 625.6 L1004.3 626 L1009.5 629.8 L1013.9 632.9 L1019 640.7 L1022.5 635.5 L1024.2 630.8 L1026 633.8 L1029.4 626.8 L1034.6 630.8 L1039 627.7 L1043.3 626.8 L1047.6 629.1 L1052 624.3 L1057.2 621.1 L1062.4 620.4 L1065 622.5 L1068.4 620.4 L1073.6 621.1 L1080.5 614.7 L1083.1 616.5 L1085.7 616.5 L1087.5 622.9 L1090.9 620.4 L1096.1 618.2 L1100.5 620.4 L1104.8 620.4 L1110 619.4 L1113.5 622.2 L1116.9 621.1 L1121.2 623.4 L1127.3 621.1 L1130.8 622.2 L1136.8 617" stroke="#2140f0" stroke-width="1.1" fill="none" stroke-linejoin="round"/>
<rect x="1075.2" y="609" width="75.2" height="20.6" fill="none" stroke="#e8175d" stroke-width="2"/>
<rect x="5" y="598" width="111" height="22" fill="#2f5f2f"/><rect x="5" y="598" width="3" height="22" fill="#00ee00"/>
<text x="17" y="614" font-size="11" font-weight="bold" fill="#fff">RSI (14,60,40,1)</text>
<text x="1431.8" y="631.8" font-size="11" fill="#555">50.0000</text>
<text x="1432.3" y="665" font-size="11" fill="#555">0.0000</text>
<text x="90.6" y="679" font-size="11" fill="#888" text-anchor="middle">7</text>
<text x="208.6" y="679" font-size="11" font-weight="bold" fill="#888" text-anchor="middle">11</text>
<text x="390.5" y="679" font-size="11" font-weight="bold" fill="#888" text-anchor="middle">14</text>
<text x="508.9" y="679" font-size="11" font-weight="bold" fill="#888" text-anchor="middle">18</text>
<text x="689.6" y="679" font-size="11" fill="#888" text-anchor="middle">21</text>
<text x="805.7" y="679" font-size="11" fill="#888" text-anchor="middle">25</text>
<text x="931.4" y="679" font-size="11" fill="#888" text-anchor="middle">28</text>
<text x="1047.5" y="679" font-size="11" font-weight="bold" fill="#666" text-anchor="middle">2024</text>
<text x="1173.5" y="679" font-size="11" fill="#888" text-anchor="middle">4</text>
<text x="1354.3" y="679" font-size="11" fill="#888" text-anchor="middle">8</text>
</svg></body></html>
